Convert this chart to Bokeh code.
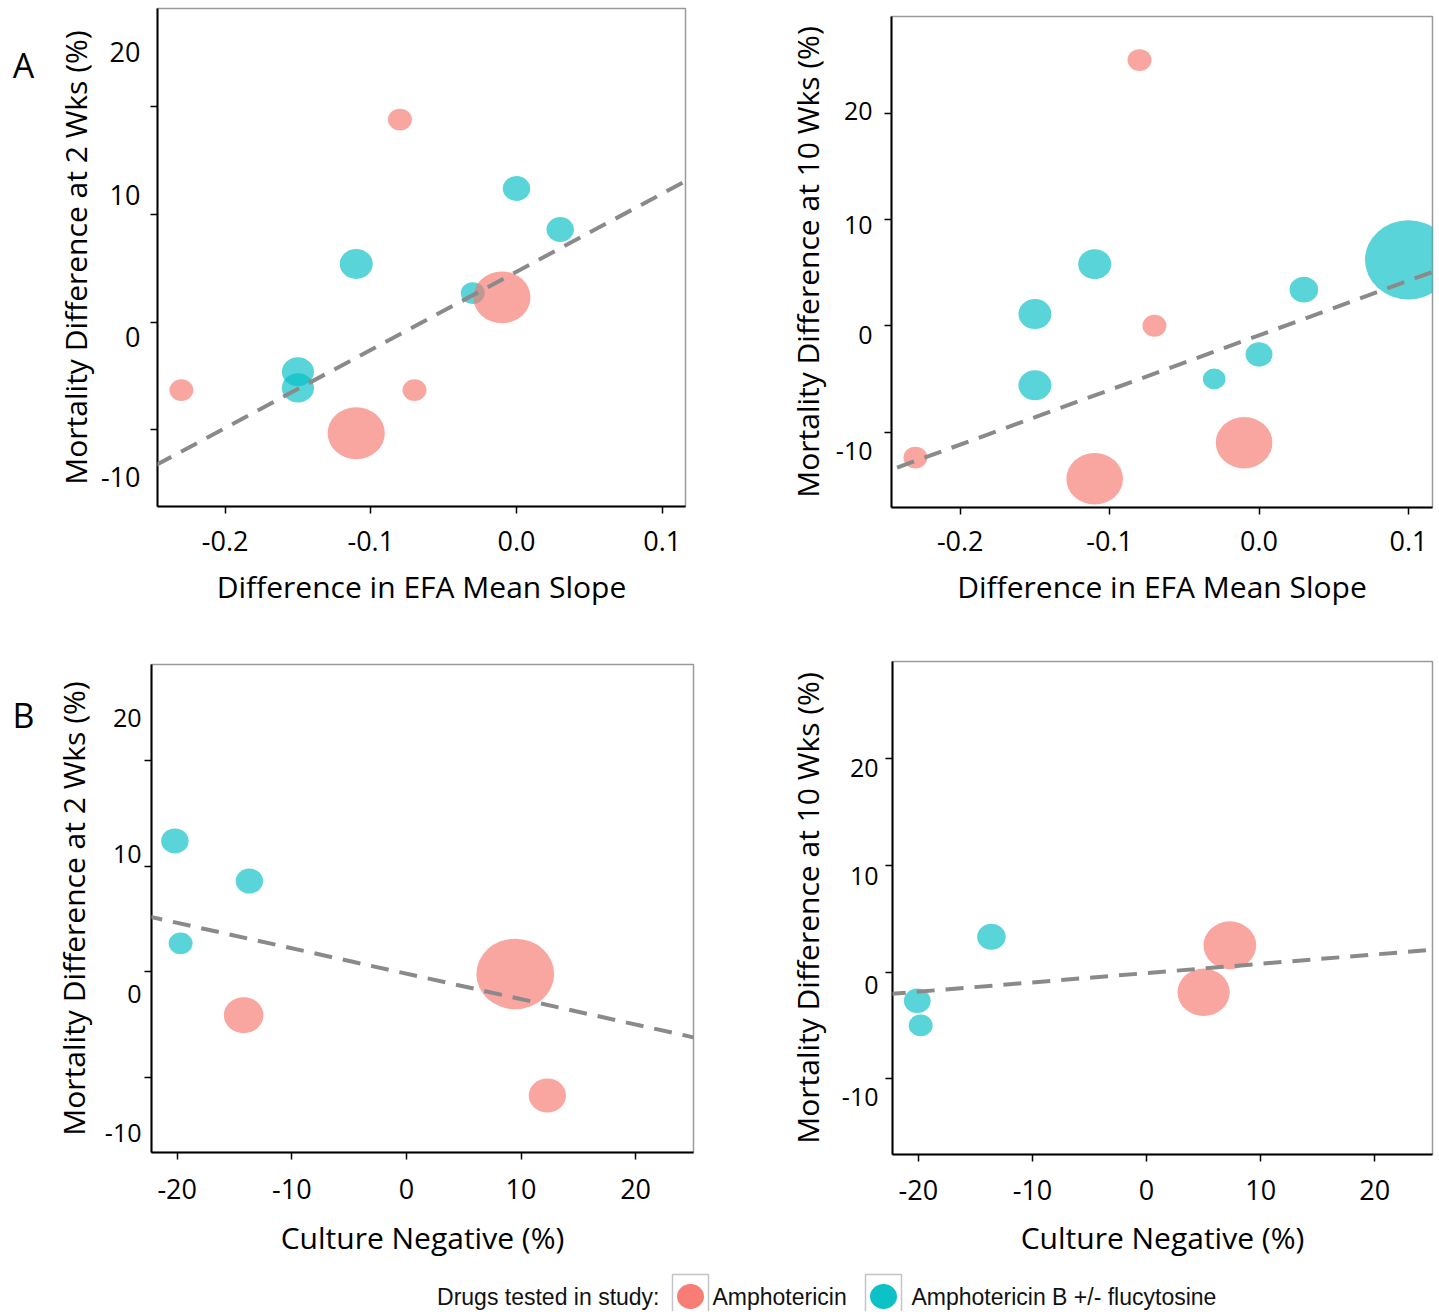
import math
from bokeh.plotting import figure
from bokeh.models import ColumnDataSource, Range1d, LinearAxis, FixedTicker, Slope
from bokeh.layouts import column, row
from bokeh.embed import file_html
from bokeh.resources import INLINE
from bokeh.core.properties import value

AMB = "Amphotericin"
AMBF = "Amphotericin B +/- flucytosine"
DRUG_COLORS = {AMB: "#F8766D", AMBF: "#00BFC4"}

# ---- Panel A, left: mortality at 2 weeks vs EFA slope difference
a2_x = [-0.08, 0.00, 0.03, -0.11, -0.03, -0.01, -0.15, -0.15, -0.23, -0.07, -0.11]
a2_y = [18.8, 12.4, 8.6, 5.4, 2.7, 2.3, -4.6, -6.1, -6.3, -6.3, -10.3]
a2_drug = [AMB, AMBF, AMBF, AMBF, AMBF, AMB, AMBF, AMBF, AMB, AMB, AMB]
a2_weight = [19, 25, 25, 36, 19, 108, 34, 34, 19, 19, 108]
a2_fit = (4.68, 72.5)          # intercept, slope

# ---- Panel A, right: mortality at 10 weeks vs EFA slope difference
a10_x = [-0.08, 0.10, -0.11, 0.03, -0.15, -0.07, 0.00, -0.03, -0.15, -0.01, -0.23, -0.11]
a10_y = [25.0, 6.2, 5.8, 3.4, 1.1, 0.0, -2.7, -5.0, -5.6, -11.0, -12.4, -14.4]
a10_drug = [AMB, AMBF, AMBF, AMBF, AMBF, AMB, AMBF, AMBF, AMBF, AMB, AMB, AMB]
a10_weight = [19, 250, 36, 27, 36, 19, 24, 17, 36, 106, 19, 106]
a10_fit = (-0.90, 51.4)

# ---- Panel B, left: mortality at 2 weeks vs culture negative
b2_x = [-20.2, -13.7, -19.7, 9.5, -14.2, 12.3]
b2_y = [12.4, 8.6, 2.7, -0.2, -4.1, -11.7]
b2_drug = [AMBF, AMBF, AMBF, AMB, AMB, AMB]
b2_weight = [25, 25, 19, 200, 52, 46]
b2_fit = (-0.17, -0.2406)

# ---- Panel B, right: mortality at 10 weeks vs culture negative
b10_x = [-13.6, 7.3, 5.0, -20.1, -19.8]
b10_y = [3.3, 2.5, -1.9, -2.7, -5.0]
b10_drug = [AMBF, AMB, AMB, AMBF, AMBF]
b10_weight = [27, 92, 90, 24, 19]
b10_fit = (-0.10, 0.0872)

Y_TICKS = [-10, 0, 10, 20]
Y_TICK_LABELS = ["-10", "0", "10", "20"]
EFA_TICKS = [-0.2, -0.1, 0.0, 0.1]
EFA_TICK_LABELS = ["-0.2", "-0.1", "0.0", "0.1"]
CN_TICKS = [-20, -10, 0, 10, 20]
CN_TICK_LABELS = ["-20", "-10", "0", "10", "20"]

FONT = "Open Sans"


def make_panel(xs, ys, drugs, weights, fit, x_range, xticks, xticklabels, xtitle, ytitle,
               ylab_pos, width, height, bl, br, bt, bb, ytick_size, ylab_standoff,
               ytitle_standoff, xlab_standoff, xtitle_standoff):
    p = figure(width=width, height=height, x_range=Range1d(*x_range),
               y_range=Range1d(-17.1, 29.1), output_backend="svg", toolbar_location=None,
               y_axis_location=None, min_border_left=bl, min_border_right=br,
               min_border_top=bt, min_border_bottom=bb)
    p.background_fill_color = "white"
    p.border_fill_color = "white"
    p.outline_line_color = "#9a9a9a"
    p.outline_line_width = 1.5
    p.xgrid.visible = False
    p.ygrid.visible = False

    # bottom axis
    xa = p.xaxis[0]
    xa.ticker = FixedTicker(ticks=xticks)
    xa.major_label_overrides = {t: l for t, l in zip(xticks, xticklabels)}
    xa.axis_line_color = "black"
    xa.axis_line_width = 2
    xa.major_tick_line_color = "black"
    xa.major_tick_line_width = 1.5
    xa.major_tick_out = 7
    xa.major_tick_in = 0
    xa.minor_tick_line_color = None
    xa.major_label_text_font = FONT
    xa.major_label_text_font_size = "27px"
    xa.major_label_text_color = "black"
    xa.major_label_standoff = xlab_standoff
    xa.axis_label = xtitle
    xa.axis_label_text_font = FONT
    xa.axis_label_text_font_size = "30px"
    xa.axis_label_text_font_style = "normal"
    xa.axis_label_text_color = "black"
    xa.axis_label_standoff = xtitle_standoff

    # left axis: tick marks only
    ya_ticks = LinearAxis(ticker=FixedTicker(ticks=Y_TICKS),
                          major_label_overrides={t: "" for t in Y_TICKS})
    ya_ticks.axis_line_color = "black"
    ya_ticks.axis_line_width = 2
    ya_ticks.major_tick_line_color = "black"
    ya_ticks.major_tick_line_width = 1.5
    ya_ticks.major_tick_out = 7
    ya_ticks.major_tick_in = 0
    ya_ticks.minor_tick_line_color = None
    ya_ticks.major_label_standoff = 0
    ya_ticks.major_label_text_font_size = "1px"
    p.add_layout(ya_ticks, "left")

    # left axis: tick labels (as typeset in the figure) and title
    ya_lab = LinearAxis(ticker=FixedTicker(ticks=ylab_pos),
                        major_label_overrides={t: l for t, l in zip(ylab_pos, Y_TICK_LABELS)})
    ya_lab.axis_line_color = None
    ya_lab.major_tick_line_color = None
    ya_lab.major_tick_out = 0
    ya_lab.major_tick_in = 0
    ya_lab.minor_tick_line_color = None
    ya_lab.major_label_text_font = FONT
    ya_lab.major_label_text_font_size = ytick_size
    ya_lab.major_label_text_color = "black"
    ya_lab.major_label_standoff = ylab_standoff
    ya_lab.axis_label = ytitle
    ya_lab.axis_label_text_font = FONT
    ya_lab.axis_label_text_font_size = "30px"
    ya_lab.axis_label_text_font_style = "normal"
    ya_lab.axis_label_text_color = "black"
    ya_lab.axis_label_standoff = ytitle_standoff
    p.add_layout(ya_lab, "left")

    d = [5.0 * math.sqrt(w) for w in weights]
    src = ColumnDataSource(dict(
        x=xs, y=ys,
        w=[1.1 * v for v in d], h=d,
        color=[DRUG_COLORS[g] for g in drugs],
    ))
    p.ellipse(x="x", y="y", width="w", height="h", width_units="screen",
              height_units="screen", source=src, fill_color="color", fill_alpha=0.65,
              line_color=None)

    p.add_layout(Slope(gradient=fit[1], y_intercept=fit[0], line_color="#8a8a8a",
                       line_width=4, line_dash="18 11"))
    return p


def letter_strip(letter, height, baseline_y):
    f = figure(width=40, height=height, x_range=Range1d(0, 40), y_range=Range1d(height, 0),
               output_backend="svg", toolbar_location=None, x_axis_location=None,
               y_axis_location=None, min_border=0)
    f.outline_line_color = None
    f.xgrid.visible = False
    f.ygrid.visible = False
    f.text(x=[23], y=[baseline_y], text=[letter], text_align="center",
           text_baseline="alphabetic", text_font=value(FONT), text_font_size="34px",
           text_color="black")
    return f


pA2 = make_panel(a2_x, a2_y, a2_drug, a2_weight, a2_fit, (-0.2464, 0.116),
                 EFA_TICKS, EFA_TICK_LABELS, "Difference in EFA Mean Slope",
                 "Mortality Difference at 2 Wks (%)", [-14.4, -1.4, 11.8, 25.1],
                 680, 640, 117, 35, 8, 134, "27px", 10, 2, 17, 12)
pA10 = make_panel(a10_x, a10_y, a10_drug, a10_weight, a10_fit, (-0.246, 0.1161),
                  EFA_TICKS, EFA_TICK_LABELS, "Difference in EFA Mean Slope",
                  "Mortality Difference at 10 Wks (%)", [-11.8, -0.9, 9.5, 20.2],
                  718, 640, 171, 6, 16, 133, "25px", 12, 5, 16, 12)
pB2 = make_panel(b2_x, b2_y, b2_drug, b2_weight, b2_fit, (-22.24, 25.05),
                 CN_TICKS, CN_TICK_LABELS, "Culture Negative (%)",
                 "Mortality Difference at 2 Wks (%)", [-15.3, -2.1, 11.2, 24.0],
                 680, 630, 111, 27, 24, 118, "25px", 3, 8, 19, 15)
pB10 = make_panel(b10_x, b10_y, b10_drug, b10_weight, b10_fit, (-22.27, 25.06),
                  CN_TICKS, CN_TICK_LABELS, "Culture Negative (%)",
                  "Mortality Difference at 10 Wks (%)", [-11.7, -1.2, 9.0, 19.1],
                  718, 630, 172, 6, 21, 116, "25px", 7, 11, 18, 14)

stripA = letter_strip("A", 640, 64)
stripB = letter_strip("B", 630, 74)

# ---- shared legend strip
LEGEND_TITLE = "Drugs tested in study:"
legend_labels = [AMB, AMBF]

leg = figure(width=1438, height=41, x_range=Range1d(0, 1438), y_range=Range1d(0, 41),
             output_backend="svg", toolbar_location=None, x_axis_location=None,
             y_axis_location=None, min_border=0)
leg.outline_line_color = None
leg.xgrid.visible = False
leg.ygrid.visible = False
leg.text(x=[659], y=[15], text=[LEGEND_TITLE], text_align="right", text_baseline="middle",
         text_font=value("Liberation Sans"), text_font_size="23px", text_color="#111111")
key_x = [690, 883]
leg.rect(x=key_x, y=[17, 17], width=36, height=40, fill_color="white",
         line_color="#c4c4c4", line_width=1.5)
leg.ellipse(x=key_x, y=[15, 15], width=27, height=25,
            fill_color=[DRUG_COLORS[g] for g in legend_labels], fill_alpha=0.95,
            line_color=None)
leg.text(x=[712, 911], y=[15, 15], text=legend_labels, text_align="left",
         text_baseline="middle", text_font=value("Liberation Sans"),
         text_font_size="23px", text_color="#111111")

# each plot wrapped in its own column so that the row does not align their frames
layout = column(
    row(column(stripA), column(pA2), column(pA10)),
    row(column(stripB), column(pB2), column(pB10)),
    leg,
)
open("out.html", "w").write(file_html(layout, INLINE))
